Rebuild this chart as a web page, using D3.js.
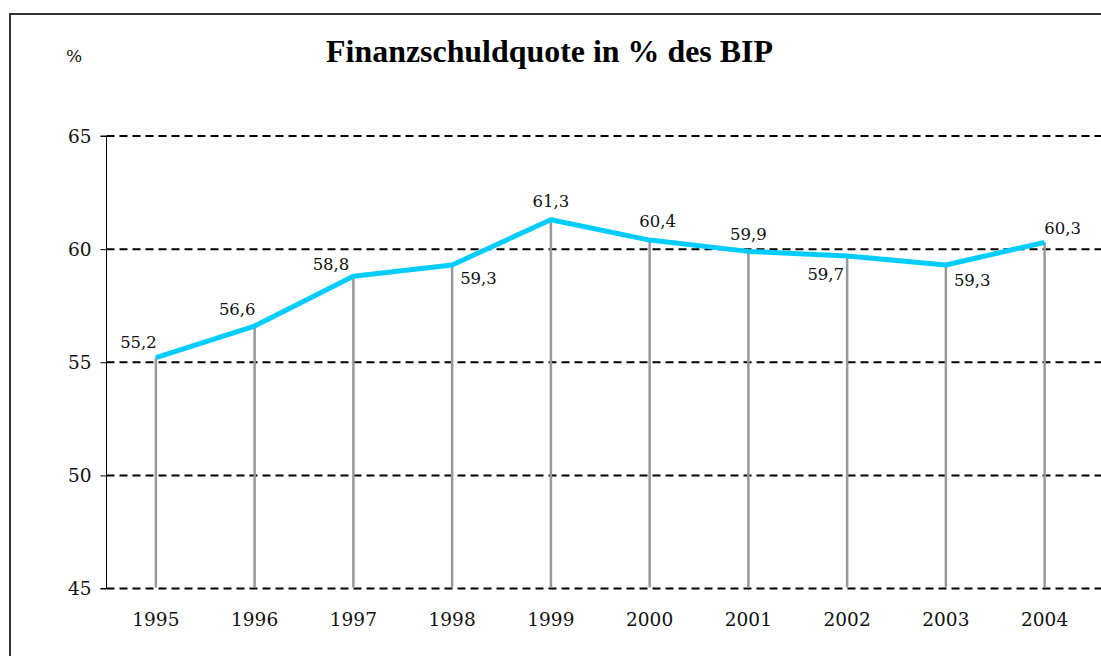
<!DOCTYPE html>
<html>
<head>
<meta charset="utf-8">
<script src="https://cdn.jsdelivr.net/npm/d3@7"></script>
<style>
  html, body { margin: 0; padding: 0; background: #fff; }
  svg { display: block; }
</style>
</head>
<body>
<svg id="chart" width="1101" height="656"></svg>
<script>
const years = ["1995","1996","1997","1998","1999","2000","2001","2002","2003","2004"];
const values = [55.2, 56.6, 58.8, 59.3, 61.3, 60.4, 59.9, 59.7, 59.3, 60.3];
const valueLabels = ["55,2","56,6","58,8","59,3","61,3","60,4","59,9","59,7","59,3","60,3"];
const yTicks = [45, 50, 55, 60, 65];
const titleText = "Finanzschuldquote in % des BIP";
const unitText = "%";
// label placement relative to each point: [dx, dy, anchor]
const labelPos = [
  [1, -10, "end"], [1, -11, "end"], [-4, -6, "end"], [8, 19, "start"],
  [0, -13, "middle"], [8, -13, "middle"], [0, -11, "middle"], [-3, 24, "end"],
  [8, 21, "start"], [18, -8, "middle"]
];

(function () {
const svg = d3.select("#chart");
const W = 1101, H = 656;
const pLeft = 106.5, pRight = 1094, pTop = 136, pBottom = 588.5;
const font = "'DejaVu Serif', serif";

// outer frame (only top & left visible)
svg.append("rect").attr("x", 10).attr("y", 14).attr("width", W + 10).attr("height", H + 10)
  .attr("fill", "none").attr("stroke", "#333").attr("stroke-width", 2);

const x = d3.scaleBand().domain(years).range([pLeft, pRight]);
const y = d3.scaleLinear().domain([45, 65]).range([pBottom, pTop]);
const cx = d => x(d) + x.bandwidth() / 2;

// dashed gridlines
svg.append("g").selectAll("line").data(yTicks).join("line")
  .attr("x1", pLeft).attr("x2", W)
  .attr("y1", d => y(d)).attr("y2", d => y(d))
  .attr("stroke", "#000").attr("stroke-width", 2)
  .attr("stroke-dasharray", "8,5");

// y axis
const yAxis = d3.axisLeft(y).tickValues(yTicks).tickSize(6).tickPadding(9);
const ga = svg.append("g").attr("transform", `translate(${pLeft},0)`).call(yAxis);
ga.select(".domain").attr("stroke", "#000").attr("stroke-width", 1).attr("d", `M-6,${pTop}H0V${pBottom}H-6`);
ga.selectAll(".tick line").attr("stroke", "#000");
ga.selectAll("text").attr("font-family", font).attr("font-size", 18.5).attr("fill", "#111").attr("dy", "0.33em");

// x labels
svg.append("g").selectAll("text").data(years).join("text")
  .attr("x", d => cx(d)).attr("y", 626)
  .attr("text-anchor", "middle").attr("font-family", font).attr("font-size", 18.5).attr("fill", "#111")
  .text(d => d);

// drop lines
svg.append("g").selectAll("line").data(years).join("line")
  .attr("x1", d => cx(d)).attr("x2", d => cx(d))
  .attr("y1", (d, i) => y(values[i])).attr("y2", pBottom - 1)
  .attr("stroke", "#999").attr("stroke-width", 2.5);

// line
const line = d3.line().x((d, i) => cx(years[i])).y(d => y(d));
svg.append("path").datum(values).attr("d", line)
  .attr("fill", "none").attr("stroke", "#00CCFF").attr("stroke-width", 5).attr("stroke-linejoin", "round");

// value labels
svg.append("g").selectAll("text").data(values).join("text")
  .attr("x", (d, i) => cx(years[i]) + labelPos[i][0])
  .attr("y", (d, i) => y(d) + labelPos[i][1])
  .attr("text-anchor", (d, i) => labelPos[i][2])
  .attr("font-family", font).attr("font-size", 16.5).attr("fill", "#111")
  .text((d, i) => valueLabels[i]);

// title
const t = svg.append("text").attr("x", 549.5).attr("y", 62).attr("text-anchor", "middle")
  .attr("font-family", "'Liberation Serif', serif").attr("font-weight", "bold").attr("font-size", 26).attr("fill", "#000")
  .text(titleText);
const tw = t.node().getComputedTextLength();
t.attr("font-size", 26 * 447 / tw);

// unit
svg.append("text").attr("x", 66).attr("y", 62).attr("font-family", font).attr("font-size", 17).attr("fill", "#111")
  .text(unitText);
})();
</script>
</body>
</html>
